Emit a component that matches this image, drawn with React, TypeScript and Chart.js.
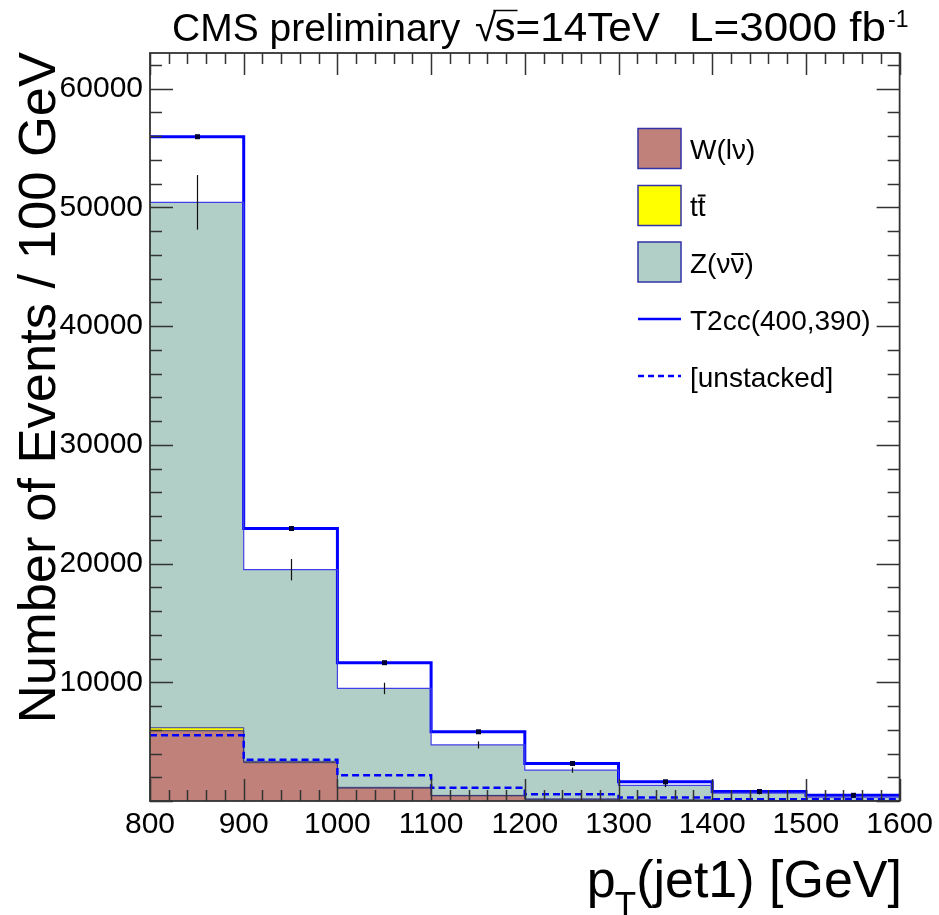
import React, { useEffect, useRef } from 'react';
import { Chart, registerables } from 'chart.js';

Chart.register(...registerables);

// ---- data ----
const binEdges = [800, 900, 1000, 1100, 1200, 1300, 1400, 1500, 1600];
const wLnu = [5920, 3230, 1090, 440, 150, 70, 30, 15];
const ttbar = [250, 110, 60, 30, 15, 8, 4, 2];
const zNuNu = [44250, 16140, 8330, 4250, 2435, 1242, 626, 313];
const t2cc = [5530, 3470, 2170, 1110, 560, 300, 140, 150];
const zErr = [2300, 900, 480, 300, 220, 150, 100, 70];
const totErr = [150, 120, 90, 60, 40, 30, 20, 15];
const yMax = 63000;
const yMinorStep = 2000;
const yMajorStep = 10000;
const xMinorStep = 20;
const xMajorStep = 100;

const FONT = "'Liberation Sans', Arial, Helvetica, sans-serif";

const COL_W = '#c0817a';
const COL_TT = '#ffff00';
const COL_Z = '#b2cfc7';
const COL_SIG = '#0000ff';

const toSteps = (vals: number[]) =>
  binEdges.map((x, i) => ({ x, y: vals[Math.min(i, vals.length - 1)] }));

const yTickValues: number[] = [];
for (let v = 0; v <= yMax; v += yMinorStep) yTickValues.push(v);

const rootDecor = {
  id: 'rootDecor',
  afterDatasetsDraw(chart: any) {
    const { ctx, chartArea: ca } = chart;
    const x = chart.scales.x;
    const y = chart.scales.y;
    ctx.save();
    // error bars
    for (let i = 0; i < binEdges.length - 1; i++) {
      const cx = Math.round(x.getPixelForValue((binEdges[i] + binEdges[i + 1]) / 2)) + 0.5;
      const zTop = wLnu[i] + ttbar[i] + zNuNu[i];
      ctx.strokeStyle = '#111';
      ctx.lineWidth = 1.2;
      ctx.beginPath();
      ctx.moveTo(cx, y.getPixelForValue(zTop - zErr[i]));
      ctx.lineTo(cx, y.getPixelForValue(zTop + zErr[i]));
      ctx.stroke();
      const tot = zTop + t2cc[i];
      ctx.beginPath();
      ctx.moveTo(cx, y.getPixelForValue(tot - totErr[i]));
      ctx.lineTo(cx, y.getPixelForValue(tot + totErr[i]));
      ctx.stroke();
      ctx.fillStyle = '#000033';
      const py = y.getPixelForValue(tot);
      ctx.fillRect(cx - 2.5, py - 2.5, 5, 5);
    }
    // ticks inside the frame, on all four sides
    ctx.strokeStyle = '#333';
    ctx.lineWidth = 1.5;
    ctx.beginPath();
    y.ticks.forEach((t: any) => {
      const py = Math.round(y.getPixelForValue(t.value)) + 0.5;
      const major = Math.round(t.value) % yMajorStep === 0;
      const len = major ? 23 : 12;
      ctx.moveTo(ca.left, py);
      ctx.lineTo(ca.left + len, py);
      ctx.moveTo(ca.right, py);
      ctx.lineTo(ca.right - len, py);
    });
    x.ticks.forEach((t: any) => {
      const px = Math.round(x.getPixelForValue(t.value)) + 0.5;
      const major = Math.round(t.value) % xMajorStep === 0;
      const len = major ? 22 : 11;
      ctx.moveTo(px, ca.bottom);
      ctx.lineTo(px, ca.bottom - len);
      ctx.moveTo(px, ca.top);
      ctx.lineTo(px, ca.top + len);
    });
    ctx.stroke();
    ctx.lineWidth = 1.8;
    ctx.strokeStyle = '#333';
    ctx.strokeRect(ca.left, ca.top, ca.right - ca.left, ca.bottom - ca.top);
    ctx.restore();
  },
  afterDraw(chart: any) {
    const { ctx } = chart;
    ctx.save();
    ctx.fillStyle = '#000';
    ctx.textBaseline = 'alphabetic';

    // ---- title ----
    ctx.font = `39px ${FONT}`;
    ctx.textAlign = 'left';
    ctx.fillText('CMS preliminary', 172, 41);
    const radX = 475;
    ctx.fillText('\u221A', radX, 41);
    const radW = ctx.measureText('\u221A').width;
    ctx.font = `40px ${FONT}`;
    const sX = radX + radW - 2;
    const s14 = 's=14TeV';
    const s14W = ctx.measureText(s14).width;
    ctx.save();
    ctx.translate(sX, 41);
    ctx.scale((660 - sX) / s14W, 1);
    ctx.fillText(s14, 0, 0);
    ctx.restore();
    const sW = ctx.measureText('s').width * ((660 - sX) / s14W);
    ctx.strokeStyle = '#000';
    ctx.lineWidth = 1.5;
    ctx.beginPath();
    ctx.moveTo(radX + radW - 3, 10.5);
    ctx.lineTo(sX + sW + 2, 10.5);
    ctx.stroke();
    const lumi = 'L=3000 fb';
    const lumiW = ctx.measureText(lumi).width;
    ctx.save();
    ctx.translate(689, 41);
    ctx.scale((886 - 689) / lumiW, 1);
    ctx.fillText(lumi, 0, 0);
    ctx.restore();
    ctx.font = `23px ${FONT}`;
    ctx.fillText('-1', 888, 27);

    // ---- y axis title ----
    ctx.save();
    ctx.translate(55, 52);
    ctx.rotate(-Math.PI / 2);
    ctx.font = `52.5px ${FONT}`;
    ctx.textAlign = 'right';
    ctx.fillText('Number of Events / 100 GeV', 0, 0);
    ctx.restore();

    // ---- x axis title ----
    ctx.textAlign = 'left';
    ctx.font = `52px ${FONT}`;
    const rest = '(jet1) [GeV]';
    const restW = ctx.measureText(rest).width;
    const restX = 902 - restW;
    ctx.fillText(rest, restX, 897);
    ctx.font = `35px ${FONT}`;
    const tW = ctx.measureText('T').width;
    const tX = restX - tW;
    ctx.fillText('T', tX, 916);
    ctx.font = `52px ${FONT}`;
    const pW = ctx.measureText('p').width;
    ctx.fillText('p', tX - pW + 1, 897);

    // ---- legend ----
    const bx = 638;
    const bw = 43;
    const bh = 40;
    const tx = 690;
    ctx.font = `28px ${FONT}`;
    ctx.textAlign = 'left';
    const boxes: [number, string][] = [
      [148.5, COL_W],
      [205.5, COL_TT],
      [262, COL_Z],
    ];
    boxes.forEach(([cy, col]) => {
      ctx.fillStyle = col;
      ctx.fillRect(bx, cy - bh / 2, bw, bh);
      ctx.strokeStyle = '#3232a8';
      ctx.lineWidth = 1.5;
      ctx.strokeRect(bx, cy - bh / 2, bw, bh);
    });
    ctx.fillStyle = '#000';
    ctx.fillText('W(l\u03BD)', tx, 148.5 + 10.5);
    ctx.fillText('tt', tx, 205.5 + 10.5);
    const tw = ctx.measureText('t').width;
    ctx.strokeStyle = '#000';
    ctx.lineWidth = 2;
    ctx.beginPath();
    ctx.moveTo(tx + tw, 205.5 + 10.5 - 20.5);
    ctx.lineTo(tx + 2 * tw, 205.5 + 10.5 - 20.5);
    ctx.stroke();
    ctx.fillText('Z(\u03BD\u03BD)', tx, 262 + 10.5);
    const zp = ctx.measureText('Z(\u03BD').width;
    const nw = ctx.measureText('\u03BD').width;
    ctx.beginPath();
    ctx.moveTo(tx + zp + 1, 262 + 10.5 - 18.5);
    ctx.lineTo(tx + zp + nw - 1, 262 + 10.5 - 18.5);
    ctx.stroke();
    ctx.strokeStyle = COL_SIG;
    ctx.lineWidth = 2.5;
    ctx.beginPath();
    ctx.moveTo(bx, 319);
    ctx.lineTo(bx + bw, 319);
    ctx.stroke();
    ctx.setLineDash([6, 4]);
    ctx.beginPath();
    ctx.moveTo(bx, 376);
    ctx.lineTo(bx + bw, 376);
    ctx.stroke();
    ctx.setLineDash([]);
    ctx.fillText('T2cc(400,390)', tx, 319 + 11);
    ctx.fillText('[unstacked]', tx, 376 + 11);
    ctx.restore();
  },
};

export default function App() {
  const canvasRef = useRef<HTMLCanvasElement | null>(null);

  useEffect(() => {
    if (!canvasRef.current) return;
    const common = { stepped: true, pointRadius: 0, pointHoverRadius: 0, tension: 0 };
    const chart = new Chart(canvasRef.current, {
      type: 'line',
      data: {
        datasets: [
          { ...common, label: 'W(lν)', data: toSteps(wLnu), stack: 'bg', fill: 'origin', backgroundColor: COL_W, borderColor: '#34346a', borderWidth: 1 },
          { ...common, label: 'tt̄', data: toSteps(ttbar), stack: 'bg', fill: '-1', backgroundColor: COL_TT, borderColor: '#3a3a9a', borderWidth: 1 },
          { ...common, label: 'Z(νν̄)', data: toSteps(zNuNu), stack: 'bg', fill: '-1', backgroundColor: COL_Z, borderColor: '#4040e8', borderWidth: 1.2 },
          { ...common, label: 'T2cc(400,390)', data: toSteps(t2cc), stack: 'bg', fill: false, borderColor: COL_SIG, borderWidth: 3 },
          { ...common, label: '[unstacked]', data: toSteps(t2cc), stack: 'unstacked', order: -1, fill: false, borderColor: COL_SIG, borderWidth: 2.5, borderDash: [7, 4] },
        ] as any,
      },
      options: {
        responsive: false,
        animation: false,
        layout: { padding: { top: 53, right: 37, left: 0, bottom: 0 } },
        plugins: {
          legend: { display: false },
          tooltip: { enabled: false },
          filler: { drawTime: 'beforeDatasetsDraw', propagate: false },
        } as any,
        scales: {
          x: {
            type: 'linear',
            min: binEdges[0],
            max: binEdges[binEdges.length - 1],
            grid: { display: false, drawTicks: false },
            border: { display: false },
            ticks: {
              stepSize: xMinorStep,
              autoSkip: false,
              maxRotation: 0,
              minRotation: 0,
              padding: 6,
              color: '#000',
              font: { family: FONT, size: 30 },
              callback: (v: any) => (Math.round(v) % xMajorStep === 0 ? String(Math.round(v)) : ''),
            },
            afterFit: (s: any) => {
              s.height = 114;
            },
          },
          y: {
            type: 'linear',
            stacked: true,
            min: 0,
            max: yMax,
            grid: { display: false, drawTicks: false },
            border: { display: false },
            afterBuildTicks: (s: any) => {
              s.ticks = yTickValues.filter((v) => v <= yMax).map((v) => ({ value: v }));
            },
            ticks: {
              autoSkip: false,
              padding: 7,
              color: '#000',
              font: { family: FONT, size: 30 },
              callback: (v: any) =>
                Math.round(v) % yMajorStep === 0 && Math.round(v) !== 0 ? String(Math.round(v)) : '',
            },
            afterFit: (s: any) => {
              s.width = 150;
            },
          },
        } as any,
      },
      plugins: [rootDecor],
    });
    return () => chart.destroy();
  }, []);

  return (
    <div style={{ position: 'fixed', left: 0, top: 0, width: 939, height: 915, background: '#fff' }}>
      <canvas ref={canvasRef} width={939} height={915} style={{ width: 939, height: 915, display: 'block' }} />
    </div>
  );
}
